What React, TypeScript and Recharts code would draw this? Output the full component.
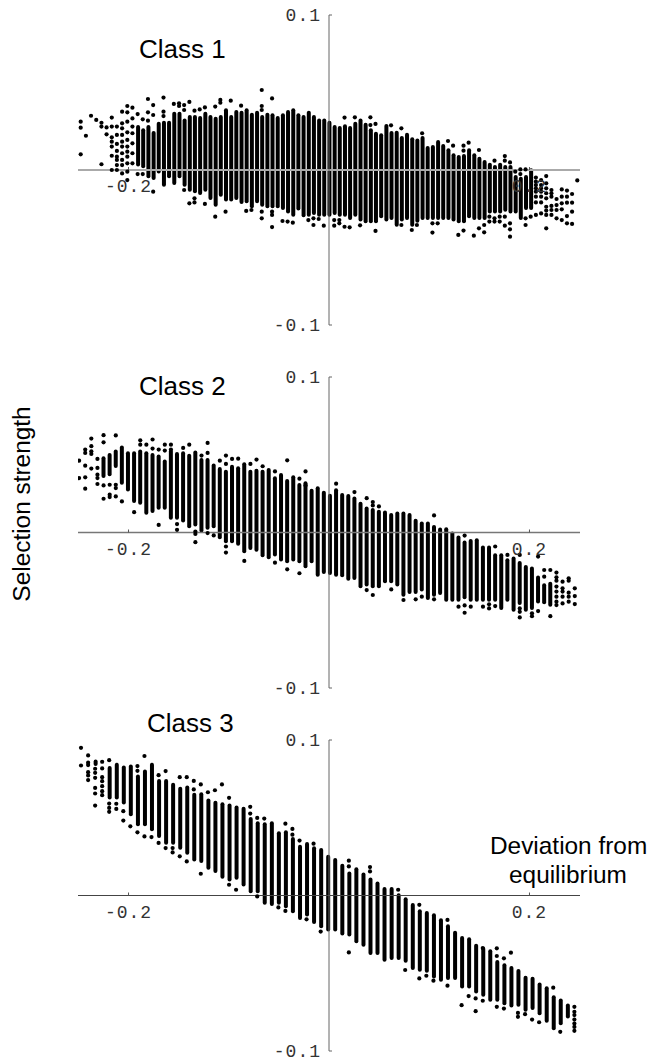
import { ComposedChart, Bar, Scatter, XAxis, YAxis, ReferenceLine } from 'recharts';

const xTicks = [-0.2, 0.2];
const yTicks = [-0.1, 0.1];
const xLabels = ['-0.2', '0.2'];
const yLabels = ['-0.1', '0.1'];

// Class 1: column positions, solid run top / bottom (null = only single dots), and loose dots per column
const class1X = [
  -.2477, -.2425, -.2374, -.2322, -.2270, -.2219, -.2167, -.2116, -.2064, -.2012,
  -.1961, -.1909, -.1858, -.1806, -.1754, -.1703, -.1651, -.1600, -.1548, -.1496,
  -.1445, -.1393, -.1342, -.1290, -.1238, -.1187, -.1135, -.1084, -.1032, -.0980,
  -.0929, -.0877, -.0826, -.0774, -.0722, -.0671, -.0619, -.0568, -.0516, -.0464,
  -.0413, -.0361, -.0310, -.0258, -.0206, -.0155, -.0103, -.0052, 0,
  .0052, .0103, .0155, .0206, .0258, .0310, .0361, .0413, .0464, .0516,
  .0568, .0619, .0671, .0722, .0774, .0826, .0877, .0929, .0980, .1032,
  .1084, .1135, .1187, .1238, .1290, .1342, .1393, .1445, .1496, .1548,
  .1600, .1651, .1703, .1754, .1806, .1858, .1909, .1961, .2012, .2064,
  .2116, .2167, .2219, .2270, .2322, .2374, .2425, .2477,
];
const class1Top = [
  null, null, null, null, null, null, null, null, null, null,
  null, .0290, .0269, .0290, .0252, .0312, .0318, .0318, .0376, .0376,
  .0333, .0355, .0355, .0348, .0376, .0355, .0344, .0355, .0398, .0355,
  .0387, .0383, .0398, .0370, .0383, .0355, .0370, .0366, .0348, .0366,
  .0387, .0398, .0366, .0355, .0383, .0355, .0333, .0333, .0318,
  .0290, .0284, .0295, .0284, .0312, .0333, .0305, .0269, .0247, .0237,
  .0297, .0252, .0254, .0219, .0241, .0211, .0204, .0219, .0155, .0161,
  .0194, .0168, .0140, .0108, .0097, .0103, .0140, .0108, .0086, .0065,
  .0047, .0032, .0047, .0032, .0032, -.0032, -.0043, -.0032, .0011, null,
  null, null, null, null, null, null, null, null,
];
const class1Bottom = [
  null, null, null, null, null, null, null, null, null, null,
  null, .0022, .0011, -.0054, -.0065, -.0022, -.0108, -.0054, -.0097, -.0054,
  -.0108, -.0140, -.0150, -.0161, -.0140, -.0194, -.0237, -.0172, -.0204, -.0204,
  -.0194, -.0219, -.0215, -.0247, -.0215, -.0237, -.0247, -.0247, -.0247, -.0258,
  -.0280, -.0301, -.0262, -.0305, -.0301, -.0290, -.0301, -.0301, -.0301,
  -.0290, -.0301, -.0301, -.0323, -.0301, -.0333, -.0344, -.0344, -.0344, -.0312,
  -.0333, -.0323, -.0366, -.0333, -.0323, -.0366, -.0340, -.0323, -.0323, -.0323,
  -.0323, -.0323, -.0323, -.0333, -.0344, -.0344, -.0312, -.0323, -.0323, -.0323,
  -.0280, -.0280, -.0280, -.0269, -.0280, -.0280, -.0323, -.0258, -.0258, null,
  null, null, null, null, null, null, null, null,
];
const class1Dots = [
  [.0312, .0273, .0101], [.0221], [.0350], [.0323], [.0305, .0280, .0037], [.0275, .0230],
  [.0338, .0280, .0211, .0183, .0151, .0092, 0],
  [.0280, .0226, .0168, .0123, .0086, .0065, .0032, 0],
  [.0376, .0301, .0269, .0226, .0183, .0151, .0108, .0065, .0032, -.0022],
  [.0413, .0372, .0312, .0243, .0194, .0151, .0118, .0086, .0043, -.0011, -.0065],
  [.0402, .0333, .0280, .0237, .0172, .0108, .0043],
  [.0361, -.0026], [.0327, -.0026], [.0458, .0372, .0318], [.0419, .0355, -.0140], [],
  [.0467, .0376, .0348], [], [.0426], [.0430, .0413],
  [.0419, .0387, -.0129], [.0439, -.0215], [.0383, -.0183, -.0209], [.0391], [.0404, -.0219], [],
  [.0409, -.0301], [.0452, .0434], [-.0269], [.0447],
  [], [.0415], [-.0264], [-.0258], [], [.0516, .0413, .0387, -.0269, -.0312],
  [], [.0462, -.0269, -.0290, -.0368], [], [-.0329],
  [-.0333], [-.0340], [], [], [-.0323], [-.0312, -.0355], [-.0316], [-.0359], [],
  [-.0323, -.0359], [-.0323, -.0344], [.0338, -.0366], [-.0370], [.0340], [-.0357], [],
  [.0340, .0290], [.0297, -.0393], [],
  [], [.0288], [], [.0269, -.0355], [], [-.0387], [-.0355], [.0237], [], [-.0344, -.0404],
  [-.0344], [], [.0187], [.0157], [-.0419], [.0157, .0125, -.0391], [.0176], [-.0424], [.0129, -.0376], [-.0355, -.0402],
  [-.0301, -.0333], [.0060, -.0312, -.0333], [-.0301, -.0333], [.0090, .0060, -.0301, -.0359], [.0049, -.0344, -.0383, -.0430],
  [-.0011], [.0004, -.0026], [.0004, -.0312, -.0355], [-.0301],
  [-.0049, -.0075, -.0097, -.0118, -.0140, -.0172, -.0209, -.0290],
  [-.0065, -.0097, -.0118, -.0140, -.0172, -.0209, -.0280],
  [-.0039, -.0086, -.0118, -.0150, -.0183, -.0237, -.0262, -.0290, -.0376],
  [-.0129, -.0150, -.0172, -.0232, -.0258, -.0290],
  [-.0187, -.0226, -.0258, -.0312],
  [-.0125, -.0172, -.0215, -.0254, -.0323],
  [-.0133, -.0172, -.0211, -.0297, -.0344],
  [-.0155, -.0211, -.0269, -.0348],
  [-.0067],
];

// Class 2
const class2X = [
  -.2493, -.2432, -.2371, -.2310, -.2249, -.2188, -.2127, -.2066, -.2005, -.1944,
  -.1883, -.1822, -.1760, -.1699, -.1638, -.1577, -.1516, -.1455, -.1394, -.1333,
  -.1272, -.1211, -.1150, -.1089, -.1028, -.0967, -.0906, -.0845, -.0784, -.0723,
  -.0662, -.0601, -.0539, -.0478, -.0417, -.0356, -.0295, -.0234, -.0173, -.0112, -.0051,
  .0010, .0071, .0132, .0193, .0254, .0315, .0376, .0437, .0498, .0559,
  .0621, .0682, .0743, .0804, .0865, .0926, .0987, .1048, .1109, .1170,
  .1231, .1292, .1353, .1414, .1475, .1536, .1597, .1658, .1719, .1780,
  .1842, .1903, .1964, .2025, .2086, .2147, .2208, .2269, .2330, .2391, .2452,
];
const class2Top = [
  null, null, null, null, .0490, .0512, .0533, .0559, .0522, .0522,
  .0533, .0522, .0512, .0501, .0469, .0533, .0518, .0522, .0507, .0527,
  .0479, .0479, .0443, .0421, .0404, .0436, .0426, .0452, .0404, .0410,
  .0404, .0415, .0361, .0383, .0344, .0368, .0318, .0329, .0282, .0297, .0269,
  .0249, .0284, .0254, .0247, .0232, .0198, .0168, .0157, .0146, .0142,
  .0125, .0135, .0135, .0125, .0088, .0071, .0071, .0049, .0032, .0034,
  .0006, -.0019, -.0052, -.0041, -.0037, -.0084, -.0084, -.0133, -.0133, -.0166,
  -.0155, -.0183, -.0209, -.0219, -.0277, -.0327, -.0316, null, null, null, null,
];
const class2Bottom = [
  null, null, null, null, .0350, .0361, .0415, .0307, .0264, .0189,
  .0178, .0114, .0125, .0146, .0146, .0082, .0082, .0065, .0028, .0039,
  0, .0017, .0028, -.0043, -.0069, -.0069, -.0086, -.0133, -.0112, -.0123,
  -.0159, -.0172, -.0155, -.0187, -.0198, -.0187, -.0198, -.0230, -.0198, -.0284, -.0267,
  -.0273, -.0284, -.0288, -.0310, -.0305, -.0359, -.0348, -.0359, -.0359, -.0327,
  -.0327, -.0348, -.0413, -.0396, -.0396, -.0380, -.0434, -.0413, -.0402, -.0445,
  -.0445, -.0445, -.0430, -.0445, -.0445, -.0445, -.0445, -.0445, -.0499, -.0445,
  -.0510, -.0467, -.0510, -.0499, -.0456, -.0462, -.0477, null, null, null, null,
];
const class2Dots = [
  [.0462, .0350], [.0533, .0512, .0430, .0355, .0282], [.0604, .0555, .0522, .0505, .0411],
  [.0473, .0415, .0372, .0350, .0312], [.0626, .0580, .0303, .0217], [.0307, .0243, .0228],
  [.0624, .0307, .0286, .0232], [.0200], [], [.0131],
  [.0593, .0565], [.0565], [.0598, .0540], [.0533, .0049], [.0565, .0527], [.0565, .0533],
  [.0054, .0017], [.0544], [.0565], [.0006, -.0009, -.0062],
  [.0495], [.0576, .0512, -.0004], [-.0019], [.0462], [.0495, .0441, -.0090, -.0129], [.0473], [.0475],
  [-.0183], [.0441], [.0469],
  [.0426], [], [.0393, -.0194], [], [.0464, -.0237], [], [.0346, -.0262], [.0393, .0303], [], [], [],
  [], [.0314], [], [], [.0260], [], [.0221, -.0370], [.0196, .0174, -.0402], [.0168], [],
  [-.0366], [], [-.0434], [], [-.0430], [-.0413], [], [.0110, -.0430], [], [],
  [], [-.0477], [-.0020, -.0469, -.0516], [-.0477], [], [-.0477], [-.0462, -.0488], [-.0090, -.0473], [], [-.0144],
  [], [-.0144, -.0488, -.0510, -.0546], [], [-.0520, -.0538], [-.0155, -.0505], [-.0241, -.0284], [-.0241, -.0538],
  [-.0258, -.0288, -.0310, -.0348, -.0380, -.0413, -.0445, -.0467],
  [-.0316, -.0359, -.0380, -.0413, -.0456],
  [-.0295, -.0310, -.0387, -.0413, -.0445],
  [-.0359, -.0409, -.0460],
];

// Class 3
const class3X = [
  -.2474, -.2403, -.2333, -.2263, -.2193, -.2122, -.2052, -.1982, -.1911, -.1841,
  -.1771, -.1700, -.1630, -.1560, -.1489, -.1419, -.1349, -.1279, -.1208, -.1138,
  -.1068, -.0997, -.0927, -.0857, -.0786, -.0716, -.0646, -.0575, -.0505, -.0435,
  -.0365, -.0294, -.0224, -.0154, -.0083, -.0013,
  .0057, .0128, .0198, .0268, .0339, .0409, .0479, .0549, .0620, .0690,
  .0760, .0831, .0901, .0971, .1042, .1112, .1182, .1253, .1323, .1393,
  .1463, .1534, .1604, .1674, .1745, .1815, .1885, .1956, .2026, .2096,
  .2167, .2237, .2307, .2378, .2448,
];
const class3Top = [
  null, null, .0875, null, .0832, .0854, .0836, .0843, .0778, .0810,
  .0854, .0750, .0750, .0725, .0699, .0707, .0660, .0664, .0624, .0610,
  .0600, .0591, .0578, .0570, .0505, .0477, .0471, .0477, .0413, .0419,
  .0376, .0327, .0344, .0316, .0305, .0262,
  .0241, .0204, .0155, .0181, .0148, .0116, .0090, .0054, .0054, .0015,
  -.0011, -.0049, -.0088, -.0099, -.0114, -.0146, -.0185, -.0226, -.0260, -.0269,
  -.0310, -.0329, -.0346, -.0415, -.0436, -.0454, -.0473, -.0516, -.0522, -.0560,
  -.0583, -.0641, -.0662, -.0695, null,
];
const class3Bottom = [
  null, null, .0832, null, .0617, .0617, .0585, .0510, .0445, .0445,
  .0413, .0370, .0327, .0327, .0295, .0262, .0219, .0209, .0166, .0144,
  .0108, .0090, .0101, .0058, .0015, .0015, -.0060, -.0067, -.0060, -.0082,
  -.0114, -.0157, -.0135, -.0183, -.0210, -.0232,
  -.0232, -.0258, -.0264, -.0307, -.0329, -.0383, -.0383, -.0426, -.0415, -.0415,
  -.0432, -.0479, -.0490, -.0497, -.0533, -.0555, -.0544, -.0544, -.0598, -.0598,
  -.0630, -.0651, -.0684, -.0684, -.0705, -.0720, -.0716, -.0748, -.0737, -.0770,
  -.0819, -.0866, -.0834, -.0791, null,
];
const class3Dots = [
  [.0950, .0836], [.0901, .0854, .0839, .0793, .0772, .0742],
  [.0815, .0789, .0757, .0692, .0656, .0578],
  [.0860, .0817, .0761, .0735, .0703, .0671, .0645],
  [.0870, .0591, .0563, .0538], [.0590, .0557], [.0542, .0482], [.0445], [.0832, .0802, .0406], [.0897, .0380],
  [.0376], [.0774, .0338], [.0800, .0305], [.0305, .0277], [.0761, .0252], [.0761, .0219],
  [.0737, .0682], [.0714, .0140], [.0664], [.0677],
  [.0714], [.0628, .0069], [.0037], [], [.0570, .0527], [.0499, -.0006], [.0495], [], [-.0077], [.0462, -.0099],
  [.0428, .0391], [.0353], [-.0153], [.0333], [-.0232], [],
  [], [], [.0224, .0187, -.0366], [], [], [.0183, .0155], [], [], [], [.0037],
  [-.0479], [], [-.0060, -.0533], [-.0516], [-.0548], [], [-.0157, -.0580], [], [-.0705], [-.0647],
  [-.0662, -.0744], [-.0338, -.0677], [], [-.0340, -.0389, -.0716], [-.0404, -.0727], [-.0368], [-.0755, -.0780], [-.0763],
  [-.0798], [-.0815], [], [-.0593], [-.0877], [],
  [-.0716, -.0748, -.0769, -.0798, -.0823, -.0845, -.0870],
];

const toBars = (xs, top, bottom) =>
  xs.flatMap((x, i) => (top[i] === null ? [] : [{ x, range: [bottom[i], top[i]] }]));
const toDots = (xs, dots) => xs.flatMap((x, i) => (dots[i] || []).map((y) => ({ x, y })));

const mono = { fontFamily: '"Liberation Mono", monospace', fontSize: 18, letterSpacing: 1, fill: '#333' };
const sans = { position: 'absolute', fontFamily: '"Liberation Sans", Arial, sans-serif', color: '#000', whiteSpace: 'nowrap', lineHeight: 1 } as const;

function Dot(props: any) {
  return <circle cx={props.cx} cy={props.cy} r={2.1} fill='#000' />;
}

function Panel({ top, plotH, xs, tops, bottoms, dots, axisColor, axisWidth }: any) {
  const halfH = plotH / 2;
  return (
    <div style={{ position: 'absolute', left: 0, top }}>
      <ComposedChart
        width={650}
        height={plotH + 30}
        data={toBars(xs, tops, bottoms)}
        margin={{ top: 15, right: 70, bottom: 14, left: 77 }}
      >
        <XAxis
          dataKey='x'
          type='number'
          domain={[-0.2504, 0.2504]}
          allowDataOverflow
          ticks={xTicks}
          interval={0}
          height={1}
          axisLine={false}
          tickLine={false}
          tickSize={0}
          tickMargin={0}
          tick={(p: any) => (
            <g>
              <line x1={p.x} x2={p.x} y1={p.y - halfH} y2={p.y - halfH - 3} stroke='#555' />
              <text {...mono} x={p.x} y={p.y - halfH + 22} textAnchor='middle'>
                {xLabels[xTicks.indexOf(p.payload.value)]}
              </text>
            </g>
          )}
        />
        <YAxis
          type='number'
          domain={[-0.1, 0.1]}
          allowDataOverflow
          ticks={yTicks}
          interval={0}
          width={1}
          axisLine={false}
          tickLine={false}
          tickSize={0}
          tickMargin={0}
          tick={(p: any) => (
            <g>
              <line x1={p.x + 251} x2={p.x + 254} y1={p.y} y2={p.y} stroke='#666' />
              <text {...mono} x={p.x + 243} y={p.y + 6} textAnchor='end'>
                {yLabels[yTicks.indexOf(p.payload.value)]}
              </text>
            </g>
          )}
        />
        <ReferenceLine y={0} stroke={axisColor} strokeWidth={axisWidth} />
        <ReferenceLine x={0} stroke='#666' strokeWidth={1} />
        <Bar dataKey='range' barSize={4} radius={2} fill='#000' isAnimationActive={false} />
        <Scatter data={toDots(xs, dots)} dataKey='y' shape={Dot} isAnimationActive={false} />
      </ComposedChart>
    </div>
  );
}

export default function App() {
  return (
    <div style={{ position: 'absolute', left: 0, top: 0, width: 650, height: 1060, overflow: 'hidden', background: '#fff' }}>
      <Panel top={0} plotH={310} xs={class1X} tops={class1Top} bottoms={class1Bottom} dots={class1Dots} axisColor='#aaa' axisWidth={2} />
      <Panel top={362} plotH={311} xs={class2X} tops={class2Top} bottoms={class2Bottom} dots={class2Dots} axisColor='#777' axisWidth={1.5} />
      <Panel top={725} plotH={311} xs={class3X} tops={class3Top} bottoms={class3Bottom} dots={class3Dots} axisColor='#444' axisWidth={1} />
      <div style={{ ...sans, left: 139, top: 36, fontSize: 26 }}>Class 1</div>
      <div style={{ ...sans, left: 139, top: 373, fontSize: 26 }}>Class 2</div>
      <div style={{ ...sans, left: 147, top: 710, fontSize: 26 }}>Class 3</div>
      <div style={{ ...sans, left: 22, top: 504, fontSize: 24.4, transform: 'translate(-50%, -50%) rotate(-90deg)' }}>Selection strength</div>
      <div style={{ ...sans, left: 490, top: 834, fontSize: 24.4 }}>Deviation from</div>
      <div style={{ ...sans, left: 509, top: 863, fontSize: 24.4 }}>equilibrium</div>
    </div>
  );
}
